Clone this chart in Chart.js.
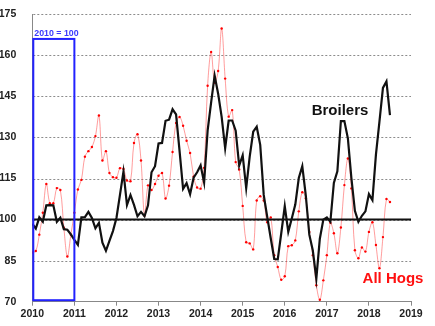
<!DOCTYPE html>
<html>
<head>
<meta charset="utf-8">
<script src="https://cdn.jsdelivr.net/npm/chart.js@4.4.1/dist/chart.umd.min.js"></script>
<style>
  html, body { margin: 0; padding: 0; background: #fff; }
  #wrap { width: 435px; height: 326px; }
</style>
</head>
<body>
<div id="wrap"><canvas id="chart" width="435" height="326"></canvas></div>
<script>
// monthly index values, Jan 2010 .. Jul 2018 (2010 = 100)
const START_YEAR = 2010;
const hogs = [
  88, 88.5, 94.5, 102.5, 113, 106, 106, 111.5, 110.8, 97, 86.5, 94.5,
  102.5, 111, 114.5, 123, 125, 126.5, 130.5, 138, 121.6, 125, 117, 115.5,
  115.3, 118.8, 118.5, 114.3, 114, 128, 131.2, 121.6, 101.5, 112.5, 110.8, 113,
  116, 117, 107.7, 112.4, 124.7, 135.3, 137.5, 134.3, 128.8, 124.3, 115.7, 111.7,
  111.3, 118.9, 148.9, 161.2, 150, 154.3, 169.8, 151.5, 137.6, 140, 121, 118.3,
  105, 91.7, 91.3, 89.1, 107, 108.5, 107, 99, 100.8, 87, 82.7, 78,
  79.3, 90.3, 90.6, 92.4, 103, 110, 107.8, 95.5, 87, 76, 70.7, 77.8,
  87, 98.8, 95, 87.7, 97.1, 112.6, 122.3, 111.4, 88.8, 85.9, 89.8, 88.3,
  95.5, 99, 90.7, 82.2, 93.6, 107.5, 106.4
];
const broilers = [
  98.5, 96.7, 100.8, 99.2, 105.2, 105.3, 105.2, 99.2, 100.7, 96.5, 96.3, 94.6,
  92.6, 90.8, 100.8, 100.9, 102.8, 100.6, 96.8, 98.8, 91.6, 88.6, 92.2, 95.8,
  100.6, 109, 117.5, 105.3, 109, 105.4, 101.2, 102.8, 101.2, 105.2, 117.3, 119.5,
  127.8, 128, 136.1, 136.5, 140.3, 138.4, 125, 111.2, 113.3, 109.3, 115.3, 117.3,
  119.8, 113.5, 132.5, 142.8, 152.6, 146, 137.5, 126.1, 136.2, 136.2, 132.5, 119.7,
  123.5, 111.5, 123, 132.1, 133.9, 127.3, 109, 101, 93.2, 85.6, 85.5, 95,
  104.9, 95.5, 100.4, 105.5, 115.2, 119.5, 108.8, 94.5, 88.7, 78.4, 93, 100,
  100.8, 99.2, 113.4, 117.6, 136, 136, 129.7, 115.2, 103.2, 99.2, 101.4, 103,
  109.3, 107.1, 123.7, 135.8, 148.1, 150.5, 138.2
];
const BASE = 100;
const xTicks = [2010, 2011, 2012, 2013, 2014, 2015, 2016, 2017, 2018, 2019];
const yTicks = [70, 85, 100, 115, 130, 145, 160, 175];
const baseYear = [2010, 2011];
const BASE_BOX_TOP = 166;
const BASE_LABEL = '2010 = 100';

const toPoints = vals => vals.map((v, i) => ({ x: START_YEAR + i / 12, y: v }));

const FONT = '"Liberation Sans", Arial, sans-serif';

// dotted horizontal guides at each y tick above the axis
const dottedGrid = {
  id: 'dottedGrid',
  beforeDatasetsDraw(chart) {
    const { ctx, chartArea, scales: { y } } = chart;
    ctx.save();
    ctx.strokeStyle = '#8c8c8c';
    ctx.lineWidth = 1;
    ctx.setLineDash([2, 2]);
    yTicks.slice(1).forEach(v => {
      const py = Math.round(y.getPixelForValue(v)) + 0.5;
      ctx.beginPath();
      ctx.moveTo(chartArea.left + 1, py);
      ctx.lineTo(chartArea.right, py);
      ctx.stroke();
    });
    ctx.restore();
  }
};

// box around the base year plus the series names
const overlay = {
  id: 'overlay',
  afterDatasetsDraw(chart) {
    const { ctx, scales: { x, y } } = chart;
    const l = x.getPixelForValue(baseYear[0]);
    const r = x.getPixelForValue(baseYear[1]);
    const t = y.getPixelForValue(BASE_BOX_TOP);
    const b = y.getPixelForValue(yTicks[0]) - 1.5;
    ctx.save();
    ctx.strokeStyle = '#2222ff';
    ctx.lineWidth = 2;
    ctx.strokeRect(l + 1, t, r - l - 1, b - t);
    ctx.fillStyle = '#3a3aff';
    ctx.font = 'bold 8.8px ' + FONT;
    ctx.textBaseline = 'alphabetic';
    ctx.fillText(BASE_LABEL, l + 2, t - 2.5);

    ctx.font = 'bold 15px ' + FONT;
    ctx.textBaseline = 'middle';
    ctx.fillStyle = '#111';
    ctx.fillText('Broilers', x.getPixelForValue(2016.64), y.getPixelForValue(139.8));
    ctx.fillStyle = '#ff1010';
    ctx.fillText('All Hogs', x.getPixelForValue(2017.85), y.getPixelForValue(78.4));
    ctx.restore();
  }
};

new Chart(document.getElementById('chart'), {
  type: 'line',
  data: {
    datasets: [
      {
        label: 'Broilers',
        data: toPoints(broilers),
        borderColor: '#111',
        borderWidth: 2.2,
        pointRadius: 0,
        tension: 0,
        order: 0,
      },
      {
        label: 'Base',
        data: [{ x: xTicks[0], y: BASE }, { x: xTicks[xTicks.length - 1], y: BASE }],
        borderColor: '#111',
        borderWidth: 2,
        pointRadius: 0,
        order: 1,
      },
      {
        label: 'All Hogs',
        data: toPoints(hogs),
        borderColor: 'rgba(255,60,60,0.5)',
        borderWidth: 1,
        pointRadius: 1.2,
        pointBackgroundColor: '#ff0000',
        pointBorderWidth: 0,
        tension: 0.35,
        order: 2,
      },
    ],
  },
  options: {
    responsive: false,
    animation: false,
    events: [],
    layout: { padding: { top: 12, right: 24, left: 0, bottom: 0 } },
    plugins: {
      legend: { display: false },
      tooltip: { enabled: false },
    },
    scales: {
      x: {
        type: 'linear',
        min: xTicks[0],
        max: xTicks[xTicks.length - 1],
        afterBuildTicks: axis => { axis.ticks = xTicks.map(v => ({ value: v })); },
        afterFit: axis => { axis.height = 24.3; },
        grid: {
          drawOnChartArea: false,
          drawTicks: true,
          tickLength: 4,
          color: '#888',
        },
        border: { color: '#888', width: 1 },
        ticks: {
          color: '#222',
          padding: 2,
          maxRotation: 0,
          callback: v => String(v),
          font: { family: FONT, size: 10.5, weight: 'bold' },
        },
      },
      y: {
        min: yTicks[0],
        max: yTicks[yTicks.length - 1],
        afterBuildTicks: axis => { axis.ticks = yTicks.map(v => ({ value: v })); },
        afterFit: axis => { axis.width = 32.3; },
        grid: { display: false },
        border: { display: true, color: '#888', width: 1 },
        ticks: {
          color: '#222',
          padding: 8,
          font: { family: FONT, size: 10.5, weight: 'bold' },
        },
      },
    },
  },
  plugins: [dottedGrid, overlay],
});
</script>
</body>
</html>
